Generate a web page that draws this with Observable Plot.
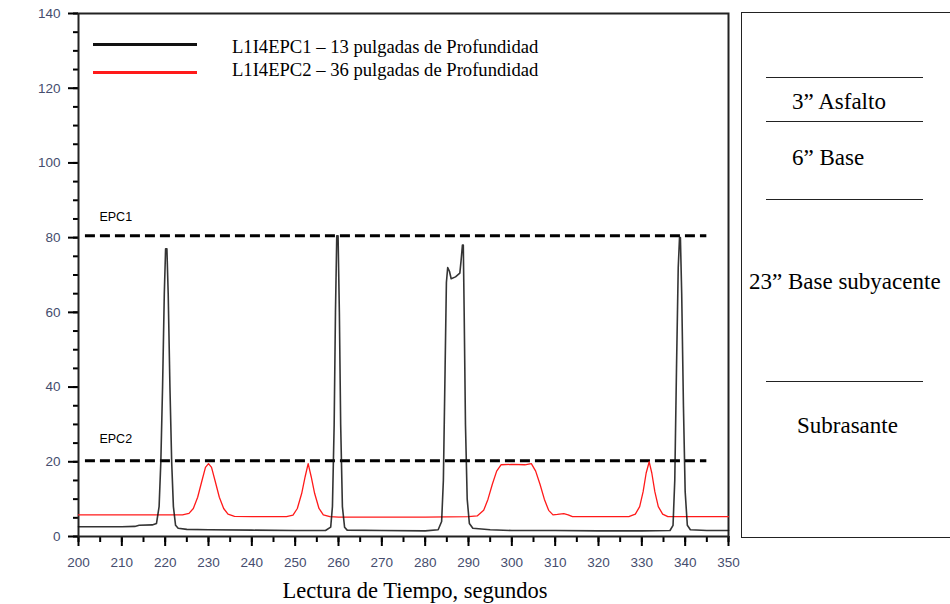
<!DOCTYPE html>
<html><head><meta charset="utf-8">
<script src="https://cdn.jsdelivr.net/npm/d3@7"></script>
<script src="https://cdn.jsdelivr.net/npm/@observablehq/plot@0.6"></script>
<style>
body{margin:0;background:#fff;}
#wrap{position:relative;width:950px;height:604px;overflow:hidden;background:#fff;}
.serif{font-family:"Liberation Serif","Times New Roman",serif;color:#000;position:absolute;white-space:nowrap;line-height:1.107;}
.hline{position:absolute;height:0;border-top:1px solid #222;}
</style>
</head><body>
<div id="wrap"></div>
<script>
// Series 1: L1I4EPC1 (13 in depth) – time (s) and reading
const epc1Time = [200,205,210,213,214,217,218,218.6,219,219.4,219.8,220.1,220.4,220.7,221.1,221.5,221.9,222.4,223,225,230,240,250,257,
  258.2,258.6,259,259.3,259.6,259.9,260.2,260.5,260.9,261.4,262,270,280,283,
  283.8,284.2,284.6,284.9,285.2,285.6,286,287,288,288.3,288.6,288.8,289,289.3,289.7,290.2,291,295,300,310,320,330,336.5,
  337.2,337.6,338,338.4,338.7,338.9,339.2,339.6,340,340.5,341.2,345,350];
const epc1Value = [2.6,2.6,2.6,2.7,3.0,3.1,3.5,8,20,40,65,77,77,65,40,20,8,3,2.2,1.9,1.8,1.7,1.6,1.6,
  2.5,8,30,60,80.5,80.5,60,30,8,2.5,1.7,1.6,1.5,1.8,
  4,15,45,68,72,71,69,69.5,70.5,74,78,78,60,30,10,3.5,2.2,1.8,1.6,1.6,1.5,1.5,1.6,
  3,15,45,72,80,80,65,35,12,3,1.8,1.6,1.6];
// Series 2: L1I4EPC2 (36 in depth)
const epc2Time = [200,210,220,224,225.5,226.5,227.5,228.5,229.3,230,230.7,231.5,232.5,233.5,234.5,236,240,248,
  249.5,250.5,251.5,252.3,253,253.7,254.5,255.5,256.5,258,260,270,280,290,
  292,293.5,294.5,295.5,296.5,297.5,300,303,304.5,305.5,306.5,307.5,308.5,309.5,310.5,312,313,314,320,327,
  328.5,329.5,330.3,331,331.7,332.3,333,333.8,334.8,336,340,350];
const epc2Value = [5.8,5.8,5.8,5.8,6.2,7.5,10.5,15,18.5,19.5,18.5,15,10.5,7.5,6,5.4,5.3,5.3,
  5.7,7.5,11.5,16,19.5,16,11.5,7.5,5.8,5.3,5.2,5.2,5.2,5.3,
  5.5,7,10,14,17.5,19.2,19.3,19.2,19.5,17.5,14,10,7,5.8,5.9,6.1,5.8,5.3,5.3,5.3,
  6,8,12,17,20,17,12,8,6,5.3,5.3,5.3];
// Threshold lines and their labels
const thresholdNames = ["EPC1","EPC2"];
const thresholdValues = [80.5, 20.3];
const thresholdLabelValues = [85.4, 26.2];
const thresholdFrom = 201.6, thresholdTo = 345;
// Axis ticks
const xTicks = d3.range(200, 351, 10);
const xMinor = d3.range(200, 351, 5);
const yTicks = d3.range(0, 141, 20);
const yMinor = d3.range(0, 141, 5);
// Legend, title & panel text
const legendLabels = ["L1I4EPC1 \u2013 13 pulgadas de Profundidad", "L1I4EPC2 \u2013 36 pulgadas de Profundidad"];
const legendColors = ["#111", "#ff1a1a"];
const xTitle = "Lectura de Tiempo, segundos";
const layers = ["3\u201d Asfalto", "6\u201d Base", "23\u201d Base subyacente", "Subrasante"];

const s1 = epc1Time.map((t,i)=>({t, v: epc1Value[i]}));
const s2 = epc2Time.map((t,i)=>({t, v: epc2Value[i]}));
const thr = thresholdNames.map((n,i)=>({n, v: thresholdValues[i], lv: thresholdLabelValues[i], x1: thresholdFrom, x2: thresholdTo}));

const tickFont = {fontFamily:"Liberation Sans, Arial, sans-serif", fontSize:13.5};
const tickColor = "#000", labelColor = "#454d6e";

const chart = Plot.plot({
  width: 950, height: 604,
  marginLeft: 78, marginRight: 222, marginTop: 13, marginBottom: 68,
  x: {domain:[200,350], label:null},
  y: {domain:[0,140], label:null},
  style: {background:"transparent", ...tickFont},
  marks: [
    Plot.axisX({ticks: xMinor, tickSize: 6, text: null, stroke: tickColor, strokeWidth:2, label:null}),
    Plot.axisX({ticks: xTicks, tickSize: 10, text: null, stroke: tickColor, strokeWidth:2, label:null}),
    Plot.axisX({ticks: xTicks, tickSize: 0, tickPadding: 21, fill: labelColor, label:null, tickFormat: d=>String(d)}),
    Plot.axisY({ticks: yMinor, tickSize: 5, text: null, stroke: tickColor, strokeWidth:2, label:null}),
    Plot.axisY({ticks: yTicks, tickSize: 10, text: null, stroke: tickColor, strokeWidth:2, label:null}),
    Plot.axisY({ticks: yTicks, tickSize: 0, tickPadding: 18, fill: labelColor, label:null, tickFormat: d=>String(d)}),
    Plot.frame({stroke:"#222", strokeWidth:2}),
    Plot.ruleY(thr, {y:"v", x1:"x1", x2:"x2", stroke:"#000", strokeWidth:3, strokeDasharray:"10,5"}),
    Plot.text(thr, {x:"x1", y:"lv", text:"n", dx:14, textAnchor:"start", fill:"#000", fontSize:12.5, fontFamily:"Liberation Sans, Arial, sans-serif"}),
    Plot.line(s2, {x:"t", y:"v", stroke: legendColors[1], strokeWidth:1.3}),
    Plot.line(s1, {x:"t", y:"v", stroke: legendColors[0], strokeWidth:1.6, strokeOpacity:0.85})
  ]
});
// make sure tick strokes are solid and dark
const tg = d3.select(chart).selectAll('g[aria-label$="tick"]');
tg.attr("stroke", tickColor).attr("stroke-opacity", 1).attr("stroke-width", 2);
tg.selectAll("path").attr("stroke", tickColor).attr("stroke-opacity", 1).attr("stroke-width", 2);

const wrap = document.getElementById("wrap");
chart.style.position = "absolute"; chart.style.left = "0"; chart.style.top = "0";
wrap.appendChild(chart);

function serifText(txt, left, baseline, fs, center) {
  const d = document.createElement("div");
  d.className = "serif";
  d.style.fontSize = fs + "px";
  d.style.top = (baseline - 0.891 * fs) + "px";
  d.style.left = left + "px";
  if (center) d.style.transform = "translateX(-50%)";
  d.textContent = txt;
  wrap.appendChild(d);
}

// Legend overlay inside plot
const legendY = [44, 72];
const legendBase = [54, 77];
legendLabels.forEach((lab,i)=>{
  const ln = document.createElement("div");
  ln.style.cssText = `position:absolute;left:93px;top:${legendY[i]-1.5}px;width:104px;height:3px;background:${legendColors[i]};`;
  wrap.appendChild(ln);
  serifText(lab, 232, legendBase[i], 18.6, false);
});

// X axis title
serifText(xTitle, 415, 599, 22.5, true);

// Right panel: pavement layers
const box = document.createElement("div");
box.style.cssText = "position:absolute;left:741px;top:12px;width:240px;height:524px;border:1px solid #222;";
wrap.appendChild(box);
[77,121,199,381].forEach(y=>{
  const l = document.createElement("div");
  l.className = "hline";
  l.style.cssText += `left:766px;top:${y}px;width:157px;`;
  wrap.appendChild(l);
});
const layerPos = [[792,109],[792,165],[749,289],[797,433]];
layers.forEach((t,i)=> serifText(t, layerPos[i][0], layerPos[i][1], 23, false));
</script>
</body></html>
